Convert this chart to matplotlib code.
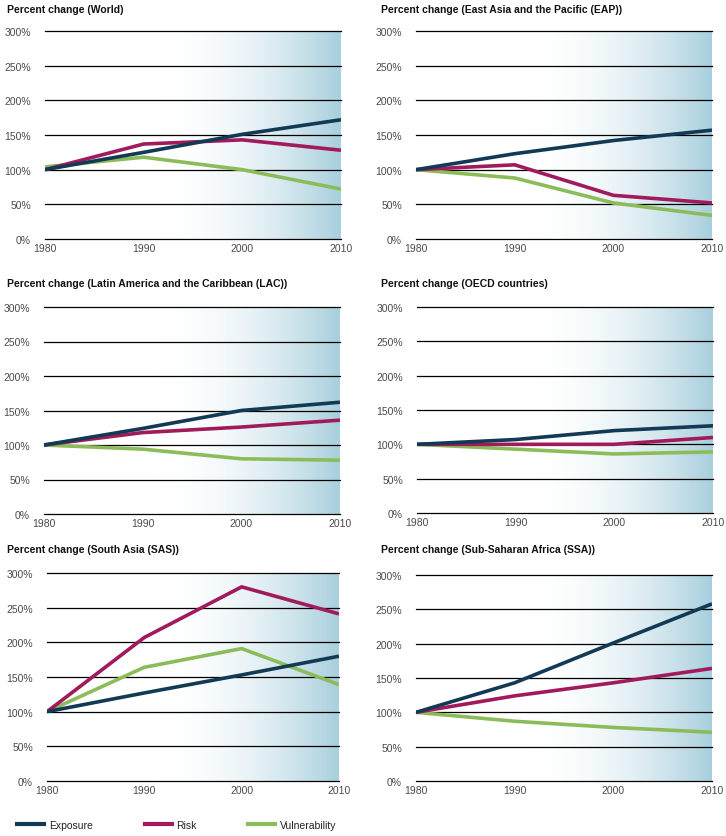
"""Percent change in exposure, risk and vulnerability by region, 1980-2010."""

import matplotlib
matplotlib.use('Agg')
import matplotlib.pyplot as plt
from matplotlib.lines import Line2D
import numpy as np

plt.rcParams['font.family'] = ['Liberation Sans', 'DejaVu Sans']

# ── Data ─────────────────────────────────────────────────────
years = [1980, 1990, 2000, 2010]

titles = [
    "Percent change (World)",
    "Percent change (East Asia and the Pacific (EAP))",
    "Percent change (Latin America and the Caribbean (LAC))",
    "Percent change (OECD countries)",
    "Percent change (South Asia (SAS))",
    "Percent change (Sub-Saharan Africa (SSA))",
]

exposure = [
    [100, 125, 151, 172],
    [100, 123, 142, 157],
    [100, 124, 150, 162],
    [100, 107, 120, 127],
    [100, 127, 153, 180],
    [100, 143, 201, 258],
]
risk = [
    [100, 137, 143, 128],
    [100, 107, 63, 52],
    [100, 118, 126, 136],
    [100, 100, 100, 110],
    [100, 207, 280, 241],
    [100, 124, 143, 164],
]
vulnerability = [
    [104, 118, 100, 72],
    [100, 88, 52, 34],
    [100, 94, 80, 78],
    [100, 93, 86, 89],
    [100, 164, 191, 139],
    [100, 87, 78, 71],
]

series_names = ["Exposure", "Risk", "Vulnerability"]
yticks = [0, 50, 100, 150, 200, 250, 300]

# ── Style ────────────────────────────────────────────────────
EXPO = "#123a55"
RISK = "#a01a5c"
VULN = "#8cbc5a"
TICK = "#4a4a4a"
W, H = 726, 837

# axes boxes in pixels: left, top(300%), right, bottom(0%)
boxes = [
    (45, 32, 341, 240),
    (416, 32, 712, 240),
    (44, 308, 340, 515),
    (417, 308, 713, 514),
    (47, 574, 339, 782),
    (416, 576, 712, 782),
]
title_pos = [(7, 10), (381, 10), (7, 284), (381, 284), (7, 550), (381, 550)]

# background gradient: white on the left, pale blue at the right edge
grad_x = np.linspace(0, 1, 400)
t = np.clip((grad_x - 0.38) / 0.62, 0, 1) ** 2.0
c0 = np.array([1.0, 1.0, 1.0])
c1 = np.array([168, 207, 221]) / 255
grad = (c0[None, :] * (1 - t[:, None]) + c1[None, :] * t[:, None])[None, :, :]

fig = plt.figure(figsize=(W / 100, H / 100), dpi=100)

for i, (l, tp, r, b) in enumerate(boxes):
    ax = fig.add_axes([l / W, 1 - b / H, (r - l) / W, (b - tp) / H])
    ax.imshow(grad, extent=[years[0], years[-1], 0, 300], aspect='auto',
              zorder=0, interpolation='bilinear')
    for v in yticks:
        ax.axhline(v, color="black", lw=0.9, zorder=1, clip_on=False)
    ax.plot(years, exposure[i], color=EXPO, lw=2.6, zorder=4, solid_capstyle='butt')
    ax.plot(years, risk[i], color=RISK, lw=2.6, zorder=3, solid_capstyle='butt')
    ax.plot(years, vulnerability[i], color=VULN, lw=2.6, zorder=2, solid_capstyle='butt')
    ax.set_xlim(years[0], years[-1])
    ax.set_ylim(0, 300)
    ax.set_xticks(years)
    ax.set_yticks(yticks)
    ax.set_yticklabels([f"{v}%" for v in yticks])
    ax.tick_params(length=0, labelsize=7.5, colors=TICK)
    ax.tick_params(axis='y', pad=10)
    ax.tick_params(axis='x', pad=3)
    for s in ax.spines.values():
        s.set_visible(False)
    tx, ty = title_pos[i]
    fig.text(tx / W, 1 - ty / H, titles[i], fontsize=7.5, fontweight='bold',
             color="#111111", va='center', ha='left')

handles = [Line2D([], [], color=c, lw=3) for c in (EXPO, RISK, VULN)]
fig.legend(handles, series_names, loc='center left',
           bbox_to_anchor=(8 / W, 1 - 826 / H), ncol=3, frameon=False,
           fontsize=7.5, handlelength=2.6, handletextpad=0.4,
           columnspacing=5.0, labelcolor="#222222")

plt.savefig("out.png", dpi=100)
